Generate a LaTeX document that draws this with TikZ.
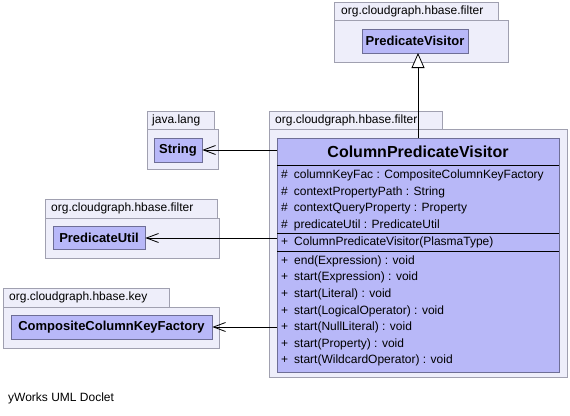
\documentclass[tikz,border=0pt]{standalone}
\usepackage{fontspec}
\setmainfont{Liberation Sans}
\usetikzlibrary{arrows.meta}
\definecolor{pkgfill}{RGB}{238,238,250}
\definecolor{pkgline}{RGB}{160,160,176}
\definecolor{clsfill}{RGB}{184,184,248}
\definecolor{clsline}{RGB}{110,110,150}
\tikzset{
  pkg/.style={draw=pkgline, fill=pkgfill, line width=0.8pt},
  pkglabel/.style={anchor=west, inner sep=0pt, font=\fontsize{12}{14}\selectfont},
  cls/.style={draw=clsline, fill=clsfill, line width=0.8pt, inner sep=0pt},
  clsname/.style={font=\bfseries\fontsize{13}{15}\selectfont},
  member/.style={anchor=west, inner sep=0pt, font=\fontsize{12}{14}\selectfont},
  dep/.style={draw=black, line width=0.8pt, -{Straight Barb[length=12pt,width=9pt,line width=0.8pt]}},
  inh/.style={draw=black, line width=0.8pt, -{Triangle[open,length=15pt,width=13pt,line width=0.8pt,fill=white]}},
  sep/.style={draw=black, line width=0.8pt}
}
\begin{document}
\begin{tikzpicture}[x=1pt,y=-1pt]
\useasboundingbox[fill=white] (0,0) rectangle (570,415);
% top package
\draw[pkg] (334,2) rectangle (498,20);
\draw[pkg] (334,20) rectangle (508,62);
\node[pkglabel] (pl1) at (341,11) {org.cloudgraph.hbase.filter};
\node[cls, clsname, minimum width=106pt, minimum height=24pt] (pv) at (415,41) {PredicateVisitor};
% main package
\draw[pkg] (269,111) rectangle (442,129);
\draw[pkg] (269,129) rectangle (567,377);
\node[pkglabel] (pl2) at (275,120) {org.cloudgraph.hbase.filter};
\node[cls, minimum width=282pt, minimum height=234pt, anchor=north west] (cpv) at (277,138) {};
\node[font=\bfseries\fontsize{16}{18}\selectfont, inner sep=0pt] (cpvname) at (418,152) {ColumnPredicateVisitor};
\draw[sep] (277,165) -- (559,165);
\draw[sep] (277,233) -- (559,233);
\draw[sep] (277,251) -- (559,251);
\node[member] (a1) at (281,175) {\#\enspace columnKeyFac : CompositeColumnKeyFactory};
\node[member] (a2) at (281,192) {\#\enspace contextPropertyPath : String};
\node[member] (a3) at (281,209) {\#\enspace contextQueryProperty : Property};
\node[member] (a4) at (281,225) {\#\enspace predicateUtil : PredicateUtil};
\node[member] (c1) at (281,242) {+\enspace ColumnPredicateVisitor(PlasmaType)};
\node[member] (m1) at (281,261) {+\enspace end(Expression) : void};
\node[member] (m2) at (281,277) {+\enspace start(Expression) : void};
\node[member] (m3) at (281,294) {+\enspace start(Literal) : void};
\node[member] (m4) at (281,311) {+\enspace start(LogicalOperator) : void};
\node[member] (m5) at (281,327) {+\enspace start(NullLiteral) : void};
\node[member] (m6) at (281,344) {+\enspace start(Property) : void};
\node[member] (m7) at (281,360) {+\enspace start(WildcardOperator) : void};
% java.lang package
\draw[pkg] (147,111) rectangle (214,129);
\draw[pkg] (147,129) rectangle (218,169);
\node[pkglabel] (pl3) at (152,120) {java.lang};
\node[cls, clsname, minimum width=48pt, minimum height=24pt] (str) at (178,150) {String};
% predicateutil package
\draw[pkg] (45,199) rectangle (217,218);
\draw[pkg] (45,218) rectangle (219,258);
\node[pkglabel] (pl4) at (51,208.5) {org.cloudgraph.hbase.filter};
\node[cls, clsname, minimum width=92pt, minimum height=23pt] (pu) at (99,238) {PredicateUtil};
% key package
\draw[pkg] (3,288) rectangle (169,307);
\draw[pkg] (3,307) rectangle (219,348);
\node[pkglabel] (pl5) at (9,297.5) {org.cloudgraph.hbase.key};
\node[cls, clsname, minimum width=201pt, minimum height=24pt] (ckf) at (111.5,327) {CompositeColumnKeyFactory};
% connectors
\draw[inh] (cpv.north -| 418,0) -- (418,53);
\draw[dep] (cpv.west |- str.east) -- (str.east);
\draw[dep] (cpv.west |- pu.east) -- (pu.east);
\draw[dep] (cpv.west |- ckf.east) -- (ckf.east);
\node[member] (yw) at (8,398) {yWorks UML Doclet};
\end{tikzpicture}
\end{document}
